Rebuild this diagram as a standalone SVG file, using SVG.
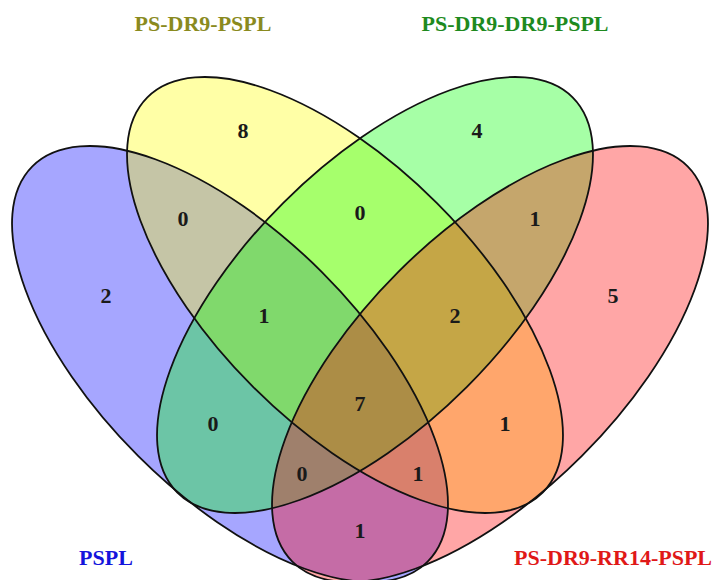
<svg xmlns="http://www.w3.org/2000/svg" xmlns:xlink="http://www.w3.org/1999/xlink" width="716" height="580" viewBox="0 0 716 580">
  <style>
    .set { fill-opacity: 0.35; stroke: none; }
    .outline { fill: none; stroke: #111; stroke-width: 1.8; }
    .title { font-family: "Liberation Serif", "Times New Roman", serif; font-weight: bold; font-size: 22px; text-anchor: middle; }
    .count { font-family: "Liberation Serif", "Times New Roman", serif; font-weight: bold; font-size: 22px; text-anchor: middle; fill: #1a1a1a; }
  </style>
  <defs>
    <ellipse id="shape-pspl" cx="230" cy="364" rx="279.5" ry="130" transform="rotate(45 230 364)"/>
    <ellipse id="shape-dr9" cx="345" cy="295" rx="279.5" ry="130" transform="rotate(45 345 295)"/>
    <ellipse id="shape-dr9dr9" cx="375" cy="295" rx="279.5" ry="130" transform="rotate(-45 375 295)"/>
    <ellipse id="shape-rr14" cx="490" cy="364" rx="279.5" ry="130" transform="rotate(-45 490 364)"/>
  </defs>

  <rect width="716" height="580" fill="#ffffff"/>

  <!-- set PSPL -->
  <g id="pspl">
    <use xlink:href="#shape-pspl" class="set" fill="#0000ff"/>
    <text class="title" x="106" y="565" fill="#1414dc">PSPL</text>
  </g>
  <!-- set PS-DR9-PSPL -->
  <g id="ps-dr9-pspl">
    <use xlink:href="#shape-dr9" class="set" fill="#ffff00"/>
    <text class="title" x="203" y="31" fill="#8a8a1e">PS-DR9-PSPL</text>
  </g>
  <!-- set PS-DR9-DR9-PSPL -->
  <g id="ps-dr9-dr9-pspl">
    <use xlink:href="#shape-dr9dr9" class="set" fill="#00ff00"/>
    <text class="title" x="515" y="31" fill="#1e8a1e">PS-DR9-DR9-PSPL</text>
  </g>
  <!-- set PS-DR9-RR14-PSPL -->
  <g id="ps-dr9-rr14-pspl">
    <use xlink:href="#shape-rr14" class="set" fill="#ff0000"/>
    <text class="title" x="613" y="565" fill="#e01818">PS-DR9-RR14-PSPL</text>
  </g>

  <!-- set boundaries -->
  <g id="outlines">
    <use xlink:href="#shape-pspl" class="outline"/>
    <use xlink:href="#shape-dr9" class="outline"/>
    <use xlink:href="#shape-dr9dr9" class="outline"/>
    <use xlink:href="#shape-rr14" class="outline"/>
  </g>

  <!-- region counts -->
  <g id="counts">
    <text class="count" x="243" y="138">8</text>
    <text class="count" x="477" y="138">4</text>
    <text class="count" x="183" y="226">0</text>
    <text class="count" x="360" y="220">0</text>
    <text class="count" x="535" y="226">1</text>
    <text class="count" x="106" y="303">2</text>
    <text class="count" x="613" y="303">5</text>
    <text class="count" x="264" y="323">1</text>
    <text class="count" x="455" y="323">2</text>
    <text class="count" x="360" y="411">7</text>
    <text class="count" x="213" y="431">0</text>
    <text class="count" x="505" y="431">1</text>
    <text class="count" x="302" y="481">0</text>
    <text class="count" x="418" y="481">1</text>
    <text class="count" x="360" y="538">1</text>
  </g>
</svg>
